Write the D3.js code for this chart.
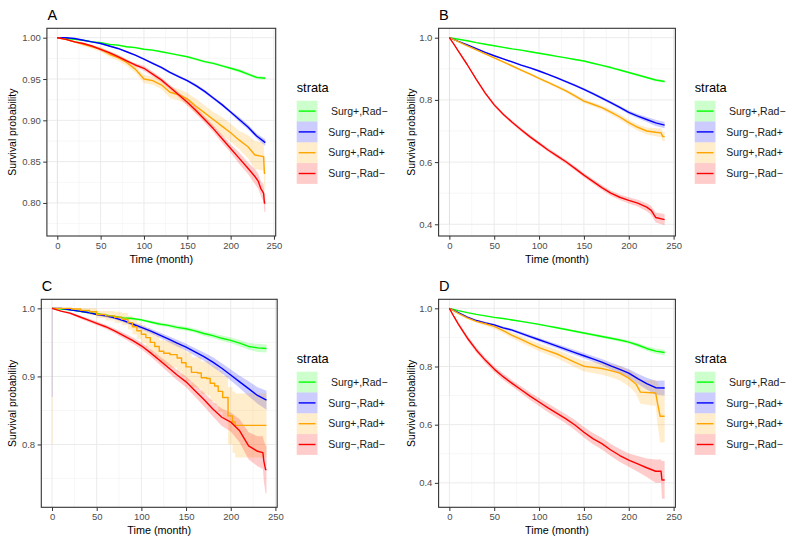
<!DOCTYPE html>
<html><head><meta charset="utf-8">
<script src="https://cdn.jsdelivr.net/npm/d3@7"></script>
<style>body{margin:0;background:#fff}svg{display:block}text{font-family:"Liberation Sans",Arial,sans-serif}</style>
</head><body>
<svg id="c" width="791" height="542"></svg>
<script>
// ---------- data ----------
const strata = ["Surg+,Rad−", "Surg−,Rad+", "Surg+,Rad+", "Surg−,Rad−"];
const xTicks = [0, 50, 100, 150, 200, 250];
const yTicksA = [0.80, 0.85, 0.90, 0.95, 1.00];
const yTicksB = [0.4, 0.6, 0.8, 1.0];
const yTicksC = [0.8, 0.9, 1.0];
const yTicksD = [0.4, 0.6, 0.8, 1.0];

// curves: [month, survival, half-width of 95% CI]
const A_g = [[0,1,0],[10,0.999,0.0005],[20,0.998,0.0005],[30,0.997,0.0005],[40,0.995,0.0005],[50,0.994,0.001],[60,0.992,0.001],[70,0.991,0.001],[80,0.989,0.001],[90,0.988,0.001],[100,0.986,0.001],[110,0.985,0.001],[120,0.983,0.001],[130,0.981,0.001],[140,0.979,0.001],[150,0.977,0.001],[160,0.974,0.0015],[170,0.971,0.0015],[180,0.969,0.0015],[190,0.966,0.0015],[200,0.963,0.0015],[210,0.960,0.002],[220,0.956,0.002],[230,0.952,0.002],[240,0.951,0.002]];
const A_b = [[0,1,0],[10,1.0,0.0005],[20,0.999,0.0005],[30,0.997,0.0005],[40,0.995,0.0005],[50,0.993,0.001],[60,0.990,0.001],[70,0.987,0.001],[80,0.983,0.001],[90,0.979,0.001],[100,0.974,0.001],[110,0.969,0.0015],[120,0.964,0.0015],[130,0.958,0.0015],[140,0.953,0.0015],[150,0.948,0.0015],[160,0.942,0.002],[170,0.935,0.002],[180,0.927,0.002],[190,0.919,0.002],[200,0.910,0.002],[210,0.901,0.003],[220,0.892,0.003],[230,0.881,0.003],[240,0.873,0.004]];
const A_o = [[0,1,0],[10,0.998,0.001],[20,0.995,0.001],[30,0.992,0.002],[40,0.989,0.002],[50,0.986,0.003],[60,0.980,0.003],[70,0.976,0.004],[80,0.970,0.004],[90,0.962,0.004],[100,0.950,0.005],[110,0.948,0.005],[120,0.943,0.005],[130,0.934,0.007],[140,0.931,0.007],[150,0.926,0.007],[160,0.917,0.009],[170,0.909,0.009],[180,0.901,0.009],[190,0.893,0.011],[200,0.885,0.011],[210,0.876,0.011],[220,0.868,0.014],[228,0.858,0.017],[238,0.856,0.017],[239,0.836,0.02],[240,0.836,0.02]];
const A_r = [[0,1,0],[10,0.998,0.001],[20,0.995,0.001],[30,0.993,0.001],[40,0.990,0.001],[50,0.986,0.002],[60,0.982,0.002],[70,0.977,0.002],[80,0.972,0.002],[90,0.967,0.002],[100,0.963,0.003],[110,0.956,0.003],[120,0.949,0.003],[130,0.940,0.003],[140,0.931,0.003],[150,0.922,0.004],[160,0.912,0.004],[170,0.901,0.004],[180,0.890,0.004],[190,0.878,0.005],[200,0.866,0.005],[210,0.854,0.007],[220,0.842,0.007],[228,0.832,0.009],[232,0.826,0.009],[235,0.817,0.009],[238,0.812,0.011],[239,0.80,0.011],[240,0.80,0.011]];

const B_g = [[0,1,0],[10,0.995,0.001],[20,0.990,0.001],[30,0.984,0.001],[40,0.979,0.001],[50,0.974,0.0015],[60,0.969,0.0015],[70,0.964,0.0015],[80,0.960,0.002],[90,0.955,0.002],[100,0.950,0.002],[110,0.945,0.002],[120,0.940,0.002],[130,0.935,0.002],[140,0.930,0.0025],[150,0.925,0.0025],[160,0.918,0.0025],[170,0.911,0.0025],[180,0.904,0.003],[190,0.896,0.003],[200,0.888,0.003],[210,0.880,0.003],[220,0.872,0.0035],[230,0.864,0.004],[240,0.859,0.004]];
const B_b = [[0,1,0],[10,0.988,0.001],[20,0.977,0.0015],[30,0.965,0.002],[40,0.953,0.002],[50,0.942,0.002],[60,0.932,0.0025],[70,0.922,0.0025],[80,0.912,0.003],[90,0.903,0.003],[100,0.893,0.003],[110,0.882,0.003],[120,0.871,0.0035],[130,0.859,0.0035],[140,0.847,0.004],[150,0.834,0.004],[160,0.820,0.0045],[170,0.806,0.005],[180,0.791,0.005],[190,0.776,0.0055],[200,0.760,0.006],[210,0.748,0.007],[220,0.737,0.008],[230,0.726,0.01],[240,0.719,0.01]];
const B_o = [[0,1,0],[10,0.987,0.002],[20,0.974,0.002],[30,0.961,0.002],[40,0.948,0.003],[50,0.935,0.003],[60,0.922,0.003],[70,0.909,0.0035],[80,0.896,0.0035],[90,0.883,0.004],[100,0.869,0.004],[110,0.856,0.0045],[120,0.843,0.005],[130,0.829,0.0055],[140,0.813,0.006],[150,0.796,0.006],[160,0.786,0.0065],[170,0.775,0.007],[180,0.761,0.008],[190,0.745,0.0085],[200,0.727,0.009],[210,0.712,0.01],[220,0.700,0.011],[230,0.696,0.013],[236,0.694,0.014],[238,0.682,0.015],[240,0.682,0.015]];
const B_r = [[0,1,0],[5,0.979,0.001],[10,0.957,0.002],[20,0.913,0.003],[30,0.866,0.004],[40,0.822,0.0045],[50,0.784,0.005],[60,0.754,0.005],[70,0.728,0.0055],[80,0.704,0.0055],[90,0.681,0.006],[100,0.660,0.006],[110,0.639,0.006],[120,0.620,0.0065],[130,0.601,0.0065],[140,0.580,0.007],[150,0.558,0.007],[160,0.538,0.0075],[170,0.518,0.008],[180,0.500,0.0085],[190,0.487,0.009],[200,0.477,0.01],[210,0.468,0.011],[220,0.455,0.013],[225,0.445,0.014],[230,0.422,0.016],[240,0.415,0.018]];

const C_g = [[0,1,0],[10,0.999,0.0005],[20,0.998,0.0005],[30,0.996,0.001],[40,0.994,0.001],[50,0.992,0.001],[60,0.990,0.0015],[70,0.988,0.0015],[80,0.986,0.0015],[90,0.985,0.002],[100,0.983,0.002],[110,0.980,0.002],[120,0.977,0.0025],[130,0.975,0.0025],[140,0.972,0.003],[150,0.970,0.003],[160,0.967,0.003],[170,0.963,0.0035],[180,0.960,0.0035],[190,0.956,0.004],[200,0.953,0.004],[210,0.949,0.0045],[220,0.944,0.005],[230,0.942,0.006],[240,0.941,0.006]];
const C_b = [[0,1,0],[10,1.0,0.0005],[20,0.998,0.001],[30,0.996,0.001],[40,0.994,0.0015],[50,0.991,0.0015],[60,0.989,0.002],[70,0.986,0.002],[80,0.982,0.0025],[90,0.977,0.0025],[100,0.972,0.003],[110,0.967,0.0035],[120,0.961,0.004],[130,0.955,0.0045],[140,0.949,0.005],[150,0.943,0.005],[160,0.936,0.0055],[170,0.929,0.006],[180,0.921,0.007],[190,0.912,0.0075],[200,0.902,0.008],[210,0.892,0.009],[220,0.882,0.011],[230,0.872,0.012],[240,0.865,0.014]];
const C_o = [[0,1,0],[18,1,0.002],[22,0.999,0.003],[32,0.997,0.004],[42,0.995,0.005],[50,0.991,0.005],[60,0.989,0.007],[70,0.987,0.008],[78,0.984,0.009],[85,0.979,0.01],[90,0.973,0.011],[95,0.967,0.012],[100,0.962,0.013],[105,0.957,0.014],[110,0.950,0.015],[115,0.944,0.016],[120,0.937,0.017],[125,0.934,0.018],[132,0.932,0.019],[140,0.927,0.02],[145,0.920,0.02],[150,0.914,0.021],[156,0.906,0.022],[163,0.905,0.023],[167,0.898,0.024],[173,0.897,0.025],[177,0.890,0.026],[182,0.886,0.028],[186,0.878,0.03],[191,0.869,0.032],[197,0.842,0.042],[202,0.833,0.045],[205,0.828,0.047],[240,0.828,0.047]];
const C_r = [[0,1,0],[10,0.996,0.001],[20,0.993,0.0015],[30,0.988,0.002],[40,0.983,0.0025],[50,0.978,0.003],[60,0.973,0.003],[70,0.967,0.0035],[80,0.960,0.004],[90,0.953,0.0045],[100,0.945,0.005],[110,0.935,0.0055],[120,0.924,0.006],[130,0.913,0.007],[140,0.902,0.0075],[150,0.892,0.008],[160,0.879,0.009],[170,0.866,0.01],[180,0.852,0.011],[190,0.840,0.013],[200,0.833,0.014],[210,0.820,0.017],[220,0.798,0.02],[230,0.790,0.022],[236,0.788,0.024],[237,0.776,0.03],[239,0.763,0.035],[240,0.763,0.035]];

const D_g = [[0,1,0],[10,0.992,0.001],[20,0.985,0.001],[30,0.979,0.0015],[40,0.974,0.0015],[50,0.969,0.002],[60,0.965,0.002],[70,0.960,0.002],[80,0.955,0.0025],[90,0.950,0.0025],[100,0.945,0.003],[110,0.939,0.003],[120,0.933,0.0035],[130,0.927,0.0035],[140,0.921,0.004],[150,0.915,0.004],[160,0.909,0.0045],[170,0.903,0.005],[180,0.897,0.005],[190,0.891,0.0055],[200,0.884,0.006],[210,0.874,0.007],[220,0.862,0.008],[230,0.853,0.009],[240,0.848,0.01]];
const D_b = [[0,1,0],[10,0.985,0.002],[20,0.970,0.003],[30,0.958,0.003],[40,0.950,0.004],[50,0.943,0.004],[60,0.933,0.0045],[70,0.925,0.005],[80,0.914,0.0055],[90,0.903,0.006],[100,0.892,0.006],[110,0.881,0.007],[120,0.870,0.0075],[130,0.859,0.008],[140,0.848,0.0085],[150,0.837,0.009],[160,0.826,0.01],[170,0.815,0.011],[180,0.802,0.012],[190,0.790,0.013],[200,0.777,0.014],[210,0.758,0.017],[220,0.741,0.02],[230,0.727,0.024],[240,0.726,0.026]];
const D_o = [[0,1,0],[10,0.983,0.003],[20,0.967,0.004],[30,0.955,0.005],[40,0.947,0.007],[50,0.938,0.008],[60,0.923,0.009],[70,0.907,0.01],[80,0.893,0.011],[90,0.879,0.012],[100,0.865,0.013],[110,0.854,0.014],[120,0.843,0.015],[130,0.829,0.016],[140,0.814,0.017],[150,0.801,0.018],[160,0.797,0.019],[170,0.793,0.021],[180,0.786,0.023],[190,0.777,0.025],[200,0.760,0.028],[208,0.740,0.033],[213,0.712,0.04],[230,0.709,0.045],[232,0.675,0.07],[235,0.629,0.09],[240,0.629,0.09]];
const D_r = [[0,1,0],[5,0.972,0.004],[10,0.946,0.006],[20,0.898,0.008],[30,0.857,0.009],[40,0.822,0.01],[50,0.791,0.01],[60,0.765,0.011],[70,0.742,0.011],[80,0.720,0.012],[90,0.698,0.013],[100,0.678,0.014],[110,0.658,0.015],[120,0.639,0.015],[130,0.620,0.016],[140,0.599,0.017],[150,0.574,0.018],[160,0.552,0.019],[170,0.535,0.02],[180,0.513,0.021],[190,0.494,0.022],[200,0.478,0.023],[210,0.465,0.027],[220,0.452,0.032],[230,0.440,0.04],[236,0.440,0.04],[237,0.410,0.065],[240,0.410,0.065]];

// faint vertical CI slivers at month 0: [series index, lower bound]
const A_sliver = [[2, 0.80]];
const B_sliver = [[2, 0.40]];
const C_sliver = [[2, 0.80], [1, 0.87]];
const D_sliver = [[2, 0.70]];

// ---------- styles / layout ----------
const colors = ["#00FF00", "#0000FF", "#FFA500", "#FF0000"];
const panels = [
  {id:"A", L:46.9, R:275.7, T:28.3, B:236, yd:[0.760,1.0114], yt:yTicksA, fmt:d3.format(".2f"),
   series:[A_g, A_b, A_o, A_r], sliver:A_sliver, step:[], lx:296.7, ly:100.7, ytx:16.4},
  {id:"B", L:438.6, R:675.4, T:28.3, B:236, yd:[0.3624,1.0302], yt:yTicksB, fmt:d3.format(".1f"),
   series:[B_g, B_b, B_o, B_r], sliver:B_sliver, step:[], lx:694.7, ly:100.7, ytx:414.7},
  {id:"C", L:41.3, R:277.2, T:299.3, B:507.3, yd:[0.7077,1.0133], yt:yTicksC, fmt:d3.format(".1f"),
   series:[C_g, C_b, C_o, C_r], sliver:C_sliver, step:[2], lx:296.7, ly:371.7, ytx:16.4},
  {id:"D", L:438.6, R:675.4, T:299.3, B:507.3, yd:[0.316,1.031], yt:yTicksD, fmt:d3.format(".1f"),
   series:[D_g, D_b, D_o, D_r], sliver:D_sliver, step:[], lx:694.7, ly:371.7, ytx:414.7}
];

const svg = d3.select("#c");

panels.forEach((p) => {
  const x = d3.scaleLinear().domain([-12, 252]).range([p.L, p.R]);
  const y = d3.scaleLinear().domain(p.yd).range([p.B, p.T]);
  const g = svg.append("g");

  g.append("text").attr("x", p.L + 0.5).attr("y", p.T - 8.5).attr("font-size", 14.5).attr("fill", "#000").text(p.id);

  const xMinor = xTicks.slice(0, -1).map((v, i) => (v + xTicks[i + 1]) / 2);
  const ystep = p.yt[1] - p.yt[0];
  const yMinor = [p.yt[0] - ystep / 2].concat(p.yt.map(v => v + ystep / 2)).filter(v => v > p.yd[0] && v < p.yd[1]);
  const grid = g.append("g");
  grid.selectAll(".vx").data(xMinor).join("line").attr("x1", d => x(d)).attr("x2", d => x(d)).attr("y1", p.T).attr("y2", p.B).attr("stroke", "#F2F2F2").attr("stroke-width", 0.6);
  grid.selectAll(".hy").data(yMinor).join("line").attr("x1", p.L).attr("x2", p.R).attr("y1", d => y(d)).attr("y2", d => y(d)).attr("stroke", "#F2F2F2").attr("stroke-width", 0.6);
  grid.selectAll(".vX").data(xTicks.filter(v => v < 252)).join("line").attr("x1", d => x(d)).attr("x2", d => x(d)).attr("y1", p.T).attr("y2", p.B).attr("stroke", "#EBEBEB").attr("stroke-width", 1);
  grid.selectAll(".hY").data(p.yt).join("line").attr("x1", p.L).attr("x2", p.R).attr("y1", d => y(d)).attr("y2", d => y(d)).attr("stroke", "#EBEBEB").attr("stroke-width", 1);

  const cid = "clip" + p.id;
  svg.append("clipPath").attr("id", cid).append("rect").attr("x", p.L).attr("y", p.T).attr("width", p.R - p.L).attr("height", p.B - p.T);
  const plot = g.append("g").attr("clip-path", `url(#${cid})`);

  // slivers at month 0
  p.sliver.forEach(([si, lo]) => {
    plot.append("rect").attr("x", x(0) - 0.3).attr("width", x(1) - x(0)).attr("y", y(1)).attr("height", y(lo) - y(1))
      .attr("fill", colors[si]).attr("fill-opacity", 0.18);
  });

  // ribbons
  p.series.forEach((line, si) => {
    const curve = p.step.includes(si) ? d3.curveStepAfter : d3.curveLinear;
    const area = d3.area().x(d => x(d[0])).y0(d => y(d[1] - d[2])).y1(d => y(Math.min(1, d[1] + d[2]))).curve(curve);
    plot.append("path").attr("d", area(line)).attr("fill", colors[si]).attr("fill-opacity", 0.2).attr("stroke", "none");
  });
  // lines
  p.series.forEach((line, si) => {
    const curve = p.step.includes(si) ? d3.curveStepAfter : d3.curveLinear;
    const ln = d3.line().x(d => x(d[0])).y(d => y(d[1])).curve(curve);
    plot.append("path").attr("d", ln(line)).attr("fill", "none").attr("stroke", colors[si]).attr("stroke-width", 1.4).attr("stroke-linejoin", "round");
  });

  g.append("rect").attr("x", p.L).attr("y", p.T).attr("width", p.R - p.L).attr("height", p.B - p.T).attr("fill", "none").attr("stroke", "#333333").attr("stroke-width", 1.1);

  const xa = g.append("g").attr("transform", `translate(0,${p.B})`)
    .call(d3.axisBottom(x).tickValues(xTicks).tickSize(3.7).tickPadding(2.5));
  const ya = g.append("g").attr("transform", `translate(${p.L},0)`)
    .call(d3.axisLeft(y).tickValues(p.yt).tickFormat(p.fmt).tickSize(3.7).tickPadding(2.5));
  [xa, ya].forEach(a => {
    a.select(".domain").remove();
    a.selectAll(".tick line").attr("stroke", "#333333").attr("stroke-width", 1);
    a.selectAll(".tick text").attr("fill", "#4D4D4D").attr("font-size", 9.5).attr("font-family", '"Liberation Sans",Arial,sans-serif');
  });

  g.append("text").attr("x", (p.L + p.R) / 2).attr("y", p.B + 26.5).attr("text-anchor", "middle").attr("font-size", 10.8).attr("fill", "#000").text("Time (month)");
  g.append("text").attr("transform", `translate(${p.ytx},${(p.T + p.B) / 2}) rotate(-90)`).attr("text-anchor", "middle").attr("font-size", 10.4).attr("fill", "#000").text("Survival probability");

  const lg = g.append("g");
  lg.append("text").attr("x", p.lx).attr("y", p.ly - 8.3).attr("font-size", 12.8).attr("fill", "#000").text("strata");
  const ks = 20.8;
  strata.forEach((s, si) => {
    const ky = p.ly + si * ks;
    lg.append("rect").attr("x", p.lx).attr("y", ky).attr("width", ks).attr("height", ks).attr("fill", colors[si]).attr("fill-opacity", 0.2);
    lg.append("line").attr("x1", p.lx + 2).attr("x2", p.lx + ks - 2).attr("y1", ky + ks / 2).attr("y2", ky + ks / 2).attr("stroke", colors[si]).attr("stroke-width", 1.4);
    lg.append("text").attr("x", p.lx + ks + 10.7 + (si === 0 ? 2.7 : 0)).attr("y", ky + ks / 2 + 3.7).attr("font-size", 10.5).attr("fill", "#1A1A1A").text(s);
  });
});
</script>
</body></html>
